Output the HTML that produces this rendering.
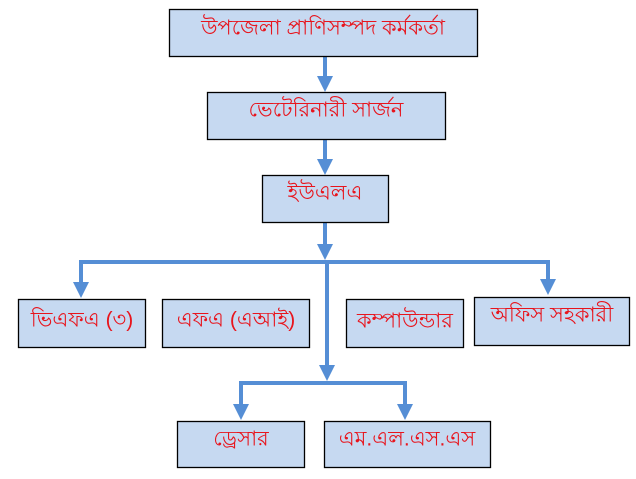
<!DOCTYPE html>
<html><head><meta charset="utf-8"><style>
html,body{margin:0;padding:0;background:#fff;width:636px;height:479px;overflow:hidden}
text{font-family:"Liberation Sans","Noto Sans CJK SC",sans-serif;fill:#e8141c;font-size:21px;text-anchor:middle;dominant-baseline:central}
</style></head><body>
<svg width="636" height="479" viewBox="0 0 636 479" xmlns="http://www.w3.org/2000/svg">
<defs><marker id="a" markerWidth="4" markerHeight="4" refX="2" refY="2" orient="auto" markerUnits="strokeWidth"><path d="M0,0 L4,2 L0,4 z" fill="#558ed5"/></marker></defs>
<g stroke="#558ed5" stroke-width="4" fill="none">
<line x1="325" y1="56" x2="325" y2="84" marker-end="url(#a)"/>
<line x1="325" y1="139" x2="325" y2="167" marker-end="url(#a)"/>
<line x1="325" y1="222" x2="325" y2="252" marker-end="url(#a)"/>
<line x1="79" y1="262" x2="550" y2="262"/>
<line x1="81" y1="262" x2="81" y2="290" marker-end="url(#a)"/>
<line x1="548" y1="262" x2="548" y2="287" marker-end="url(#a)"/>
<line x1="327" y1="262" x2="327" y2="373" marker-end="url(#a)"/>
<line x1="239" y1="383" x2="407" y2="383"/>
<line x1="241" y1="383" x2="241" y2="412" marker-end="url(#a)"/>
<line x1="405" y1="383" x2="405" y2="412" marker-end="url(#a)"/>
</g>
<g fill="#c6d9f1" stroke="#000" stroke-width="1.3">
<rect x="169.5" y="9.5" width="308" height="47"/>
<rect x="207.5" y="92.5" width="238" height="47"/>
<rect x="262.5" y="175.5" width="126" height="47"/>
<rect x="18.5" y="299.5" width="127" height="48"/>
<rect x="162.5" y="299.5" width="147" height="48"/>
<rect x="346.5" y="299.5" width="117" height="48"/>
<rect x="474.5" y="297.5" width="155" height="48"/>
<rect x="177.5" y="421.5" width="127" height="46"/>
<rect x="324.5" y="421.5" width="166" height="46"/>
</g>
<text x="323" y="28">উপজেলা প্রাণিসম্পদ কর্মকর্তা</text>
<text x="326" y="110">ভেটেরিনারী সার্জন</text>
<text x="325" y="193">ইউএলএ</text>
<text x="82" y="320">ভিএফএ (৩)</text>
<text x="236" y="320">এফএ (এআই)</text>
<text x="405" y="321">কম্পাউন্ডার</text>
<text x="552" y="315">অফিস সহকারী</text>
<text x="241" y="439">ড্রেসার</text>
<text x="407" y="439">এম.এল.এস.এস</text>
</svg>
</body></html>
